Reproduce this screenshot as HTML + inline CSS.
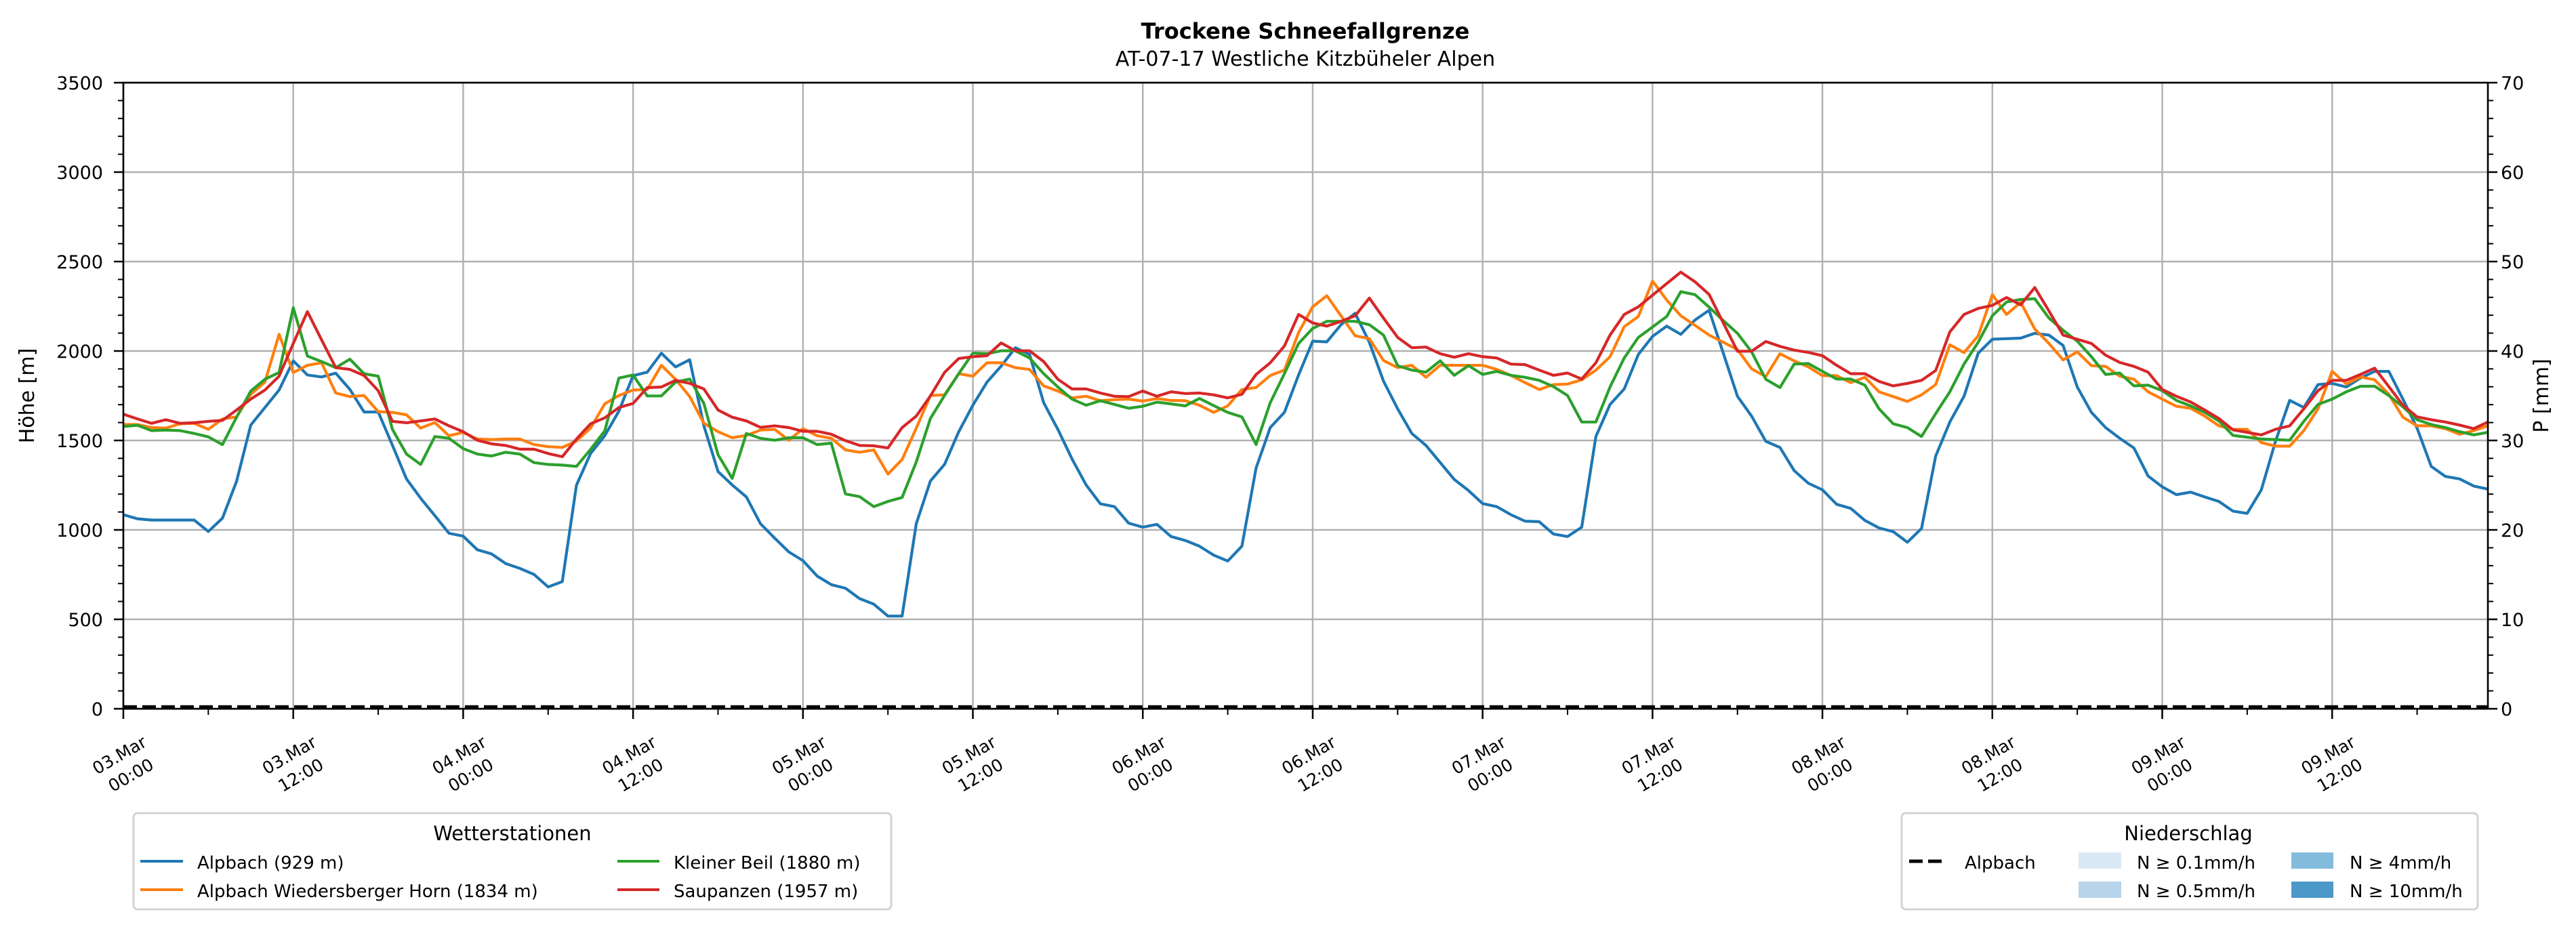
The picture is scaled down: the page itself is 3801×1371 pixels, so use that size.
<!DOCTYPE html>
<html><head><meta charset="utf-8"><style>
html,body{margin:0;padding:0;background:#fff;}
svg{display:block;font-family:"DejaVu Sans","Liberation Sans",sans-serif;}
</style></head><body>
<svg id="chart" width="3801" height="1371" viewBox="0 0 3801 1371" xmlns="http://www.w3.org/2000/svg">
<rect x="0" y="0" width="3801" height="1371" fill="#fff"/>
<text x="1926" y="57" font-size="32" font-weight="bold" text-anchor="middle">Trockene Schneefallgrenze</text>
<text x="1926" y="97" font-size="30" text-anchor="middle">AT-07-17 Westliche Kitzbüheler Alpen</text>
<g id="grid"></g>
<g id="series"></g>
<g id="axes"></g>
<text transform="translate(50,584) rotate(-90)" font-size="30" text-anchor="middle">Höhe [m]</text>
<text transform="translate(3760,584) rotate(-90)" font-size="30" text-anchor="middle">P [mm]</text>

<g>
<rect x="197" y="1200" width="1118" height="142" rx="6" fill="#fff" stroke="#d3d3d3" stroke-width="3"/>
<text x="756" y="1240" font-size="29" text-anchor="middle">Wetterstationen</text>
<g><line x1="207" y1="1271" x2="270" y2="1271" stroke="#1f77b4" stroke-width="4"/><text x="291" y="1282" font-size="26">Alpbach (929 m)</text></g>
<g><line x1="207" y1="1313" x2="270" y2="1313" stroke="#ff7f0e" stroke-width="4"/><text x="291" y="1324" font-size="26">Alpbach Wiedersberger Horn (1834 m)</text></g>
<g><line x1="911" y1="1271" x2="973" y2="1271" stroke="#2ca02c" stroke-width="4"/><text x="994" y="1282" font-size="26">Kleiner Beil (1880 m)</text></g>
<g><line x1="911" y1="1313" x2="973" y2="1313" stroke="#d62728" stroke-width="4"/><text x="994" y="1324" font-size="26">Saupanzen (1957 m)</text></g>
</g>

<g>
<rect x="2806" y="1200" width="850" height="142" rx="6" fill="#fff" stroke="#d3d3d3" stroke-width="3"/>
<text x="3229" y="1240" font-size="29" text-anchor="middle">Niederschlag</text>
<g><line x1="2817" y1="1271" x2="2873" y2="1271" stroke="#000" stroke-width="5" stroke-dasharray="20,8"/><text x="2899" y="1282" font-size="26">Alpbach</text></g>
<g><rect x="3067" y="1258" width="63" height="24" fill="#d9e8f5"/><text x="3153" y="1282" font-size="26">N ≥ 0.1mm/h</text></g>
<g><rect x="3067" y="1301" width="63" height="24" fill="#b7d4ea"/><text x="3153" y="1324" font-size="26">N ≥ 0.5mm/h</text></g>
<g><rect x="3381" y="1258" width="62" height="24" fill="#82bbdb"/><text x="3467" y="1282" font-size="26">N ≥ 4mm/h</text></g>
<g><rect x="3381" y="1301" width="62" height="24" fill="#4b98c9"/><text x="3467" y="1324" font-size="26">N ≥ 10mm/h</text></g>
</g>
</svg>
<script>
const hoursTotal = 167;
const yTicks = [0,500,1000,1500,2000,2500,3000,3500];
const y2Ticks = [0,10,20,30,40,50,60,70];
const xTickDays = ["03.Mar","03.Mar","04.Mar","04.Mar","05.Mar","05.Mar","06.Mar","06.Mar","07.Mar","07.Mar","08.Mar","08.Mar","09.Mar","09.Mar"];
const xTickTimes = ["00:00","12:00","00:00","12:00","00:00","12:00","00:00","12:00","00:00","12:00","00:00","12:00","00:00","12:00"];
const precipAlpbach = [0,0];

const alpbach = [1085,1062,1055,1055,1055,1055,991,1065,1272,1586,1684,1782,1945,1866,1855,1876,1785,1659,1659,1474,1285,1177,1080,981,965,889,866,812,785,751,681,711,1250,1427,1526,1664,1862,1882,1988,1911,1951,1582,1326,
1251,1184,1035,954,877,828,742,694,674,616,585,518,518,1035,1274,1366,1548,1697,1826,1916,2018,1981,1711,1562,1397,1251,1146,1130,1038,1015,1031,963,941,909,859,826,909,1346,1572,1657,1866,2055,
2051,2147,2211,2049,1832,1677,1539,1472,1377,1282,1220,1147,1130,1085,1049,1046,977,963,1015,1522,1701,1788,1981,2082,2139,2093,2173,2228,1988,1747,1636,1495,1461,1332,1261,1224,1143,1120,1053,1011,990,931,
1008,1413,1603,1747,1988,2066,2069,2072,2099,2089,2031,1799,1657,1572,1512,1458,1301,1241,1197,1211,1184,1159,1105,1092,1224,1495,1724,1684,1812,1819,1799,1849,1886,1886,1731,1569,1355,1299,1285,1245,1228];
const wiedersberg = [1589,1589,1572,1569,1593,1596,1562,1620,1632,1758,1826,2093,1880,1920,1934,1765,1745,1751,1661,1657,1643,1569,1600,1526,1545,1508,1505,1508,1508,1477,1465,1461,1497,1569,1704,1751,1782,1785,1920,1842,1745,1596,1549,
1515,1528,1558,1562,1501,1566,1526,1512,1447,1434,1447,1312,1393,1569,1751,1755,1873,1859,1934,1934,1907,1897,1805,1776,1738,1747,1722,1728,1731,1720,1734,1724,1722,1697,1657,1693,1785,1796,1863,1893,2103,2247,
2309,2197,2085,2069,1947,1907,1920,1853,1920,1920,1920,1920,1897,1864,1823,1785,1812,1815,1839,1893,1968,2136,2193,2391,2285,2197,2143,2089,2049,2008,1900,1857,1985,1945,1911,1862,1862,1823,1853,1772,1745,1718,
1755,1812,2035,1991,2085,2315,2204,2272,2123,2042,1950,1995,1918,1914,1859,1842,1772,1731,1691,1680,1636,1582,1562,1562,1488,1468,1468,1555,1677,1886,1816,1855,1839,1758,1630,1582,1582,1566,1535,1555,1582];
const kleinerBeil = [1578,1585,1555,1558,1555,1539,1520,1477,1630,1776,1842,1880,2242,1972,1941,1907,1954,1873,1859,1562,1424,1366,1522,1512,1454,1424,1413,1434,1424,1376,1366,1362,1355,1450,1553,1849,1866,1749,1749,1826,1843,1707,1420,
1288,1539,1512,1501,1515,1515,1477,1485,1201,1186,1130,1159,1181,1380,1623,1751,1873,1988,1985,2001,2001,1961,1873,1799,1731,1697,1722,1701,1680,1691,1714,1704,1693,1735,1695,1657,1632,1477,1711,1873,2042,2126,
2166,2166,2166,2147,2089,1918,1893,1882,1945,1864,1918,1869,1886,1864,1853,1836,1801,1751,1603,1603,1799,1961,2076,2134,2193,2332,2315,2245,2170,2099,1995,1842,1796,1927,1930,1886,1843,1843,1809,1677,1593,1572,
1522,1650,1772,1927,2049,2197,2274,2288,2292,2184,2116,2055,1968,1869,1877,1805,1809,1778,1724,1693,1657,1609,1528,1518,1508,1505,1501,1607,1701,1731,1772,1803,1803,1751,1688,1616,1589,1572,1549,1531,1545];
const saupanzen = [1647,1620,1596,1616,1596,1599,1607,1612,1670,1731,1782,1859,2042,2220,2062,1907,1897,1863,1778,1607,1599,1609,1620,1582,1549,1501,1481,1472,1451,1451,1427,1409,1508,1593,1626,1684,1707,1795,1799,1836,1819,1788,1670,
1630,1609,1573,1582,1572,1551,1551,1535,1499,1472,1470,1458,1572,1636,1749,1880,1958,1968,1974,2045,2001,2001,1941,1842,1788,1788,1765,1747,1745,1776,1747,1772,1762,1765,1755,1738,1758,1869,1934,2028,2204,2157,
2139,2166,2197,2296,2184,2076,2018,2022,1985,1965,1985,1968,1961,1927,1924,1893,1864,1877,1843,1934,2089,2204,2247,2312,2377,2441,2387,2316,2157,1999,1999,2053,2026,2005,1992,1974,1920,1873,1873,1830,1805,1819,
1836,1891,2107,2204,2238,2255,2299,2258,2355,2224,2089,2066,2042,1977,1936,1914,1882,1785,1747,1715,1670,1623,1559,1545,1531,1562,1582,1677,1778,1836,1836,1869,1904,1801,1697,1632,1616,1603,1586,1566,1603];

const NS = "http://www.w3.org/2000/svg";
const X0 = 182, X1 = 3671, Y0 = 1046, Y1 = 122;
function xScale(h){ return X0 + (X1 - X0) * h / hoursTotal; }
function yScale(v){ return Y0 - (Y0 - Y1) * v / 3500; }
function y2Scale(p){ return Y0 - (Y0 - Y1) * p / 70; }
function mk(tag, parent){ const e = document.createElementNS(NS, tag); parent.appendChild(e); return e; }

const grid = document.getElementById('grid');
const axes = document.getElementById('axes');
const series = document.getElementById('series');

yTicks.forEach(function(v){
  const l = mk('line', grid);
  
  
  l.setAttribute('x1', X0); l.setAttribute('x2', X1);
  l.setAttribute('y1', yScale(v)); l.setAttribute('y2', yScale(v));
  l.setAttribute('stroke', '#b0b0b0'); l.setAttribute('stroke-width', '2.4');
});
xTickDays.forEach(function(d, i){
  const h = i * 12;
  const x = xScale(h);
  const g = mk('line', grid);
  
  
  g.setAttribute('x1', x); g.setAttribute('x2', x);
  g.setAttribute('y1', Y1); g.setAttribute('y2', Y0);
  g.setAttribute('stroke', '#b0b0b0'); g.setAttribute('stroke-width', '2.4');
  const t = mk('line', axes);
  
  
  t.setAttribute('x1', x); t.setAttribute('x2', x);
  t.setAttribute('y1', Y0); t.setAttribute('y2', Y0 + 15);
  t.setAttribute('stroke', '#000'); t.setAttribute('stroke-width', '2.5');
  const lab = mk('text', axes);
  
  
  lab.setAttribute('font-size', '25');
  lab.setAttribute('text-anchor', 'middle');
  lab.setAttribute('transform', 'translate(' + (x + 2) + ',1128) rotate(-30)');
  const s1 = mk('tspan', lab); s1.setAttribute('x', 0); s1.setAttribute('y', -7); s1.textContent = d;
  const s2 = mk('tspan', lab); s2.setAttribute('x', 0); s2.setAttribute('y', 27); s2.textContent = xTickTimes[i];
});
for (let h = 6; h <= hoursTotal; h += 12){
  const t = mk('line', axes);
  
  
  const x = xScale(h);
  t.setAttribute('x1', x); t.setAttribute('x2', x);
  t.setAttribute('y1', Y0); t.setAttribute('y2', Y0 + 9);
  t.setAttribute('stroke', '#000'); t.setAttribute('stroke-width', '2');
}
for (let v = 0; v <= 3500; v += 100){
  const major = v % 500 === 0;
  const t = mk('line', axes);
  
  
  t.setAttribute('x1', X0 - (major ? 14 : 8)); t.setAttribute('x2', X0);
  t.setAttribute('y1', yScale(v)); t.setAttribute('y2', yScale(v));
  t.setAttribute('stroke', '#000'); t.setAttribute('stroke-width', major ? '2.5' : '2');
}
yTicks.forEach(function(v){
  const lab = mk('text', axes);
  
  
  lab.setAttribute('x', 152); lab.setAttribute('y', yScale(v) + 10);
  lab.setAttribute('font-size', '27'); lab.setAttribute('text-anchor', 'end');
  lab.textContent = v;
});
for (let p = 0; p <= 70; p += 2){
  const major = p % 10 === 0;
  const t = mk('line', axes);
  
  
  t.setAttribute('x1', X1); t.setAttribute('x2', X1 + (major ? 14 : 8));
  t.setAttribute('y1', y2Scale(p)); t.setAttribute('y2', y2Scale(p));
  t.setAttribute('stroke', '#000'); t.setAttribute('stroke-width', major ? '2.5' : '2');
}
y2Ticks.forEach(function(p){
  const lab = mk('text', axes);
  
  
  lab.setAttribute('x', 3690); lab.setAttribute('y', y2Scale(p) + 10);
  lab.setAttribute('font-size', '27'); lab.setAttribute('text-anchor', 'start');
  lab.textContent = p;
});

const seriesList = [
  [alpbach, '#1f77b4', 'line-alpbach'],
  [wiedersberg, '#ff7f0e', 'line-wiedersberger-horn'],
  [kleinerBeil, '#2ca02c', 'line-kleiner-beil'],
  [saupanzen, '#d62728', 'line-saupanzen']
];
seriesList.forEach(function(s){
  const pts = s[0].map(function(v, i){ return xScale(i).toFixed(1) + ',' + yScale(v).toFixed(1); }).join(' ');
  const pl = mk('polyline', series);
  
  
  pl.setAttribute('points', pts);
  pl.setAttribute('fill', 'none');
  pl.setAttribute('stroke', s[1]);
  pl.setAttribute('stroke-width', '4.2');
  pl.setAttribute('stroke-linejoin', 'round');
});
const pl = mk('line', series);


pl.setAttribute('x1', X0); pl.setAttribute('x2', X1);
pl.setAttribute('y1', y2Scale(precipAlpbach[0]) - 3); pl.setAttribute('y2', y2Scale(precipAlpbach[1]) - 3);
pl.setAttribute('stroke', '#000'); pl.setAttribute('stroke-width', '4.5');
pl.setAttribute('stroke-dasharray', '20,8');

const fr = mk('rect', axes);


fr.setAttribute('x', X0); fr.setAttribute('y', Y1);
fr.setAttribute('width', X1 - X0); fr.setAttribute('height', Y0 - Y1);
fr.setAttribute('fill', 'none'); fr.setAttribute('stroke', '#000'); fr.setAttribute('stroke-width', '2.6');
</script>
</body></html>
